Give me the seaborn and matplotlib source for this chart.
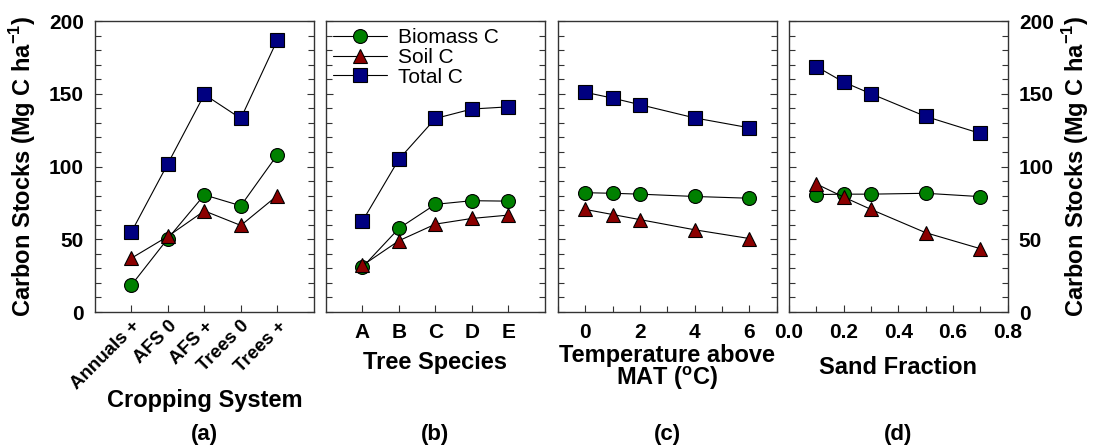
import matplotlib
matplotlib.use("Agg")
import matplotlib.pyplot as plt
import numpy as np
import pandas as pd
import seaborn as sns
from matplotlib.ticker import MultipleLocator, FormatStrFormatter

# ---- data ----
crop_systems = ["Annuals +", "AFS 0", "AFS +", "Trees 0", "Trees +"]
crop_biomass = [18.5, 50.5, 80.5, 73, 108]
crop_soil = [37, 52, 69.5, 59.5, 80]
crop_total = [55, 102, 149.5, 133, 187]

tree_species = ["A", "B", "C", "D", "E"]
tree_biomass = [30.8, 57.5, 74, 76.5, 76.2]
tree_soil = [32, 49, 60.4, 64.3, 66.6]
tree_total = [62.5, 105, 133, 139.5, 141]

temp_above = [0, 1, 2, 4, 6]
temp_biomass = [82, 81.6, 81, 79.4, 78.2]
temp_soil = [70.5, 67, 63.5, 56.5, 50.5]
temp_total = [151, 147, 142.5, 133.4, 126.6]

sand_fraction = [0.1, 0.2, 0.3, 0.5, 0.7]
sand_biomass = [80.7, 81, 81, 81.6, 79.3]
sand_soil = [88, 79, 70.5, 54.5, 43.5]
sand_total = [168.7, 158, 150, 134.4, 122.7]

series_names = ["Biomass C", "Soil C", "Total C"]
series_markers = ["o", "^", "s"]
series_colors = ["#008000", "#8b0000", "#000080"]

sns.set_style("ticks")
plt.rcParams["font.family"] = ["Liberation Sans", "DejaVu Sans"]
plt.rcParams["mathtext.fontset"] = "custom"
plt.rcParams["mathtext.rm"] = "Liberation Sans:bold"
plt.rcParams["mathtext.bf"] = "Liberation Sans:bold"
plt.rcParams["text.color"] = "black"
plt.rcParams["axes.labelcolor"] = "black"
plt.rcParams["xtick.labelcolor"] = "black"
plt.rcParams["ytick.labelcolor"] = "black"

fig = plt.figure(figsize=(10.94, 4.47), dpi=100)

# axes rectangles (figure fraction)
bottom, height, width = 0.302, 0.651, 0.200
lefts = [0.0868, 0.298, 0.510, 0.7212]
axes = [fig.add_axes([l, bottom, width, height]) for l in lefts]

panels = [
    (crop_systems, [crop_biomass, crop_soil, crop_total]),
    (tree_species, [tree_biomass, tree_soil, tree_total]),
    (temp_above, [temp_biomass, temp_soil, temp_total]),
    (sand_fraction, [sand_biomass, sand_soil, sand_total]),
]

for ax, (xvals, ys) in zip(axes, panels):
    for name, yv, m, c in zip(series_names, ys, series_markers, series_colors):
        df = pd.DataFrame({"x": xvals, "y": yv})
        sns.lineplot(
            data=df, x="x", y="y", ax=ax, sort=False, errorbar=None,
            color="black", linewidth=0.8,
            marker=m, markersize=10 if m != "^" else 10.5,
            markerfacecolor=c, markeredgecolor="black", markeredgewidth=0.8,
            label=name,
        )
    ax.set_ylim(0, 200)
    ax.yaxis.set_major_locator(MultipleLocator(50))
    ax.yaxis.set_minor_locator(MultipleLocator(10))
    ax.tick_params(axis="both", which="both", direction="in",
                   left=True, right=True, top=False, labelsize=15,
                   pad=8, color="#333333")
    ax.tick_params(which="major", length=5, width=0.8)
    ax.tick_params(which="minor", length=4, width=0.8)
    ax.set_xlabel("")
    ax.set_ylabel("")
    for sp in ax.spines.values():
        sp.set_color("#333333")
        sp.set_linewidth(1.0)
    if ax.get_legend() is not None:
        ax.get_legend().remove()

label_kw = dict(fontsize=17, fontweight="bold")
ylabel_text = r"Carbon Stocks (Mg C ha$^{-1}$)"

# (a) cropping system
ax = axes[0]
ax.set_xlim(-1, 5)
ax.tick_params(axis="x", which="minor", bottom=False)
ax.tick_params(axis="x", pad=4)
ax.set_xticks(range(len(crop_systems)))
ax.set_xticklabels(crop_systems, rotation=45, ha="right",
                   rotation_mode="anchor", fontsize=13.5, fontweight="bold")
ax.set_xlabel("Cropping System", **label_kw)
ax.xaxis.set_label_coords(0.5, -0.265)
ax.xaxis.label.set_va("top")
ax.set_ylabel(ylabel_text, **label_kw)
ax.yaxis.set_label_coords(-0.26, 0.5)

# (b) tree species
ax = axes[1]
ax.set_xlim(-1, 5)
ax.tick_params(axis="x", which="minor", bottom=False)
ax.set_xticks(range(len(tree_species)))
ax.set_xticklabels(tree_species, fontsize=15, fontweight="bold")
ax.tick_params(axis="y", labelleft=False)
ax.set_xlabel("Tree Species", **label_kw)
ax.xaxis.set_label_coords(0.5, -0.135)
ax.xaxis.label.set_va("top")
ax.legend(loc="upper left", frameon=False, fontsize=15, handlelength=2.6,
          handletextpad=0.5, labelspacing=0.03, borderpad=0.1,
          borderaxespad=0.25)

# (c) temperature
ax = axes[2]
ax.set_xlim(-1, 7)
ax.xaxis.set_major_locator(MultipleLocator(2))
ax.xaxis.set_minor_locator(MultipleLocator(1))
ax.tick_params(axis="y", labelleft=False)
ax.set_xlabel("Temperature above\n" + r"MAT ($^{\mathrm{o}}$C)",
              linespacing=0.85, **label_kw)
ax.xaxis.set_label_coords(0.5, -0.11)
ax.xaxis.label.set_va("top")

# (d) sand fraction
ax = axes[3]
ax.set_xlim(0, 0.8)
ax.xaxis.set_major_locator(MultipleLocator(0.2))
ax.xaxis.set_minor_locator(MultipleLocator(0.1))
ax.xaxis.set_major_formatter(FormatStrFormatter("%.1f"))
ax.tick_params(axis="y", labelleft=False, labelright=True)
ax.set_xlabel("Sand Fraction", **label_kw)
ax.xaxis.set_label_coords(0.5, -0.15)
ax.xaxis.label.set_va("top")
ax.yaxis.set_label_position("right")
ax.set_ylabel(ylabel_text, **label_kw)
ax.yaxis.set_label_coords(1.24, 0.5)

for ax in axes:
    for lab in ax.get_xticklabels() + ax.get_yticklabels():
        lab.set_fontweight("bold")

for ax, tag in zip(axes, ["(a)", "(b)", "(c)", "(d)"]):
    pos = ax.get_position()
    fig.text(pos.x0 + pos.width / 2, 0.027, tag, ha="center", va="center",
             fontsize=16, fontweight="bold")

fig.savefig("out.png", dpi=100)
